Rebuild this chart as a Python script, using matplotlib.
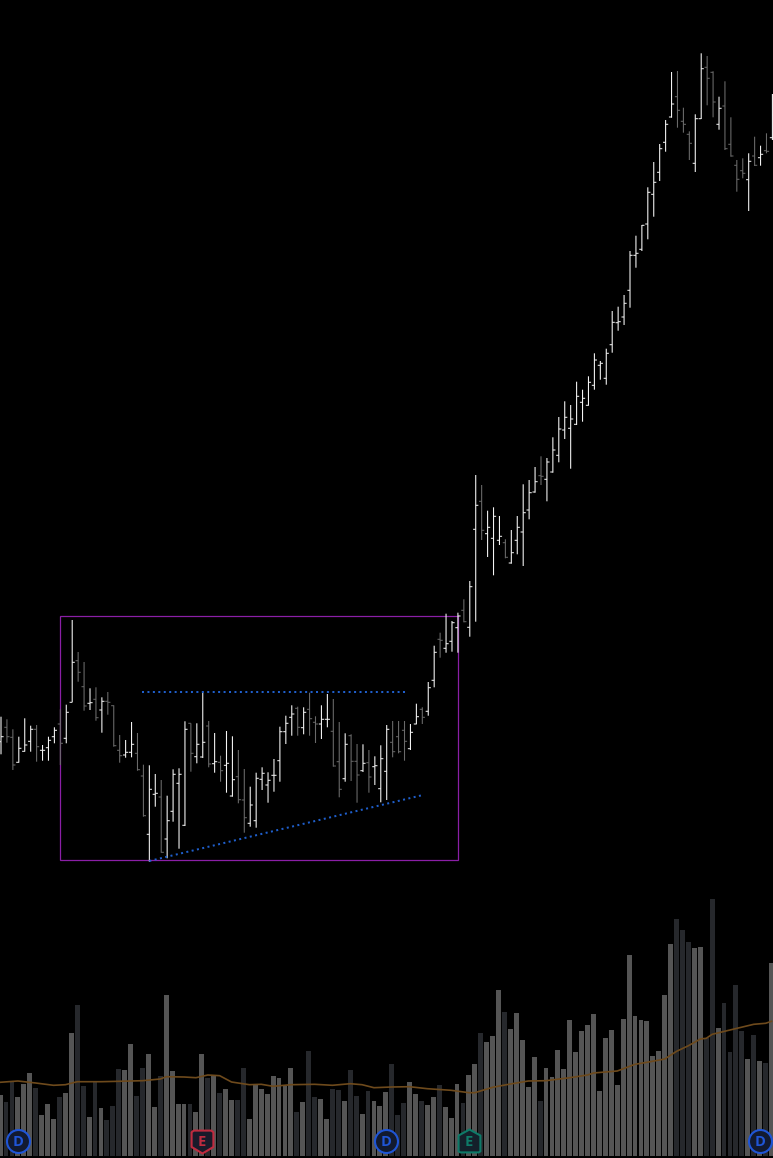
import numpy as np
import matplotlib
matplotlib.use("Agg")
import matplotlib.pyplot as plt
from matplotlib.path import Path
from matplotlib.patches import Rectangle

highs = [28.33,28.07,27.07,26.33,28.17,27.43,27.5,25.5,26.33,27.27,29.07,29.53,38,34.8,33.8,31.17,31.27,30.27,30.8,29.47,26.5,26,27.8,26.7,23.53,23.47,22.6,22,20.43,23.07,23.17,27.87,27.67,27.67,30.73,27.9,26.7,24.43,26.9,26.37,25,
 23.1,21.33,22.73,23.27,22.77,24.1,27.33,28.43,29.47,29.33,29.27,30.73,28.37,29.47,30.6,30.1,27.8,26.67,26.57,25.6,25.57,25,24.37,25.47,27.5,27.9,27.9,27.9,27.6,29.63,29.27,31.8,35.43,36.73,38.63,37.9,38.73,
 40.07,41.9,52.5,51.5,48.93,49.27,48.4,46.07,47,48.4,51.57,52,53.3,54.37,54.2,56.27,58.3,59.87,59.5,61.83,61.03,62.37,64.67,63.9,65.13,
 68.9,69.33,70.5,74.9,76.43,77.5,81.27,83.8,85.6,88,92.8,92.9,89.23,86.87,88.57,94.67,94.4,92.87,90.33,91.87,88.27,84,84.17,84.67,86.33,85.43,86.67,90.6]
lows = [24.57,25.73,23,23.73,24.83,24.83,23.83,23.93,23.93,25.67,23.5,25.67,29.77,31.83,28.93,29,27.93,26.73,28.53,25.33,23.73,24.23,24.27,22.93,18.33,13.83,19.33,14.73,14.17,17.83,15.13,17.4,22.83,23.67,24.2,23.27,22.73,21.83,20.73,20.33,19.67,
 16.73,17.33,17.23,21,19.73,20.83,21.83,25.6,26.43,26.43,26.57,26.43,25.7,26.1,27.27,23.33,20.27,21.83,21.9,19.73,22.8,20.73,21.5,19.77,20,24.27,24.67,23.93,25,27.57,27.6,28.43,31.27,34.23,34.73,34.83,34.73,
 37.77,36.33,37.83,46,44.3,42.47,45.5,44.17,43.63,44.57,43.4,48.07,50.73,51.5,49.87,52.73,53.77,56.1,53.13,57.5,57.83,59.43,61.03,62.03,61.53,
 64.73,66.93,67.5,69.23,73.23,74.9,76.07,78.33,81.9,84.83,88.23,87.23,86.73,84,82.8,88.1,89.47,88.27,87.03,85,84.33,80.83,82.17,78.9,83.4,83.43,84.67,86]
opens = [25.83,27.27,26.27,23.77,24.87,25.87,27.07,24.97,25.23,26.33,27.6,26.17,29.77,33.93,31.33,29.67,30.07,29,29.87,29.43,24.97,24.5,24.77,24.67,22.4,16.57,20.57,20.3,16.1,18.87,21.67,17.47,27.67,24.33,24.3,27.4,23.63,23.77,23.47,20.4,22.33,
 20,17.67,17.93,22.07,21.5,22.47,23.93,26.83,28.27,29.17,27.23,29.07,27.77,27.6,28.07,26.87,23.83,22.13,26.43,23.87,22.93,23.73,23.33,21.13,22.87,25.77,26.33,26.97,25.13,27.6,29.07,28.87,31.97,36.07,35.17,35.87,37.23,
 38.97,37.27,47.07,49.87,46.63,46.17,45.97,45.73,43.7,45.97,46.8,49,50.8,52.43,52.07,52.8,54.47,57,57.17,57.57,59.77,59.47,61.47,63.47,62.17,
 65.53,67.73,68.3,70.97,74.47,75.07,77.6,80.57,82.77,85.77,88.3,90.33,87.87,86.57,83.67,88.13,93.27,92.77,87.57,89.4,85.57,83.47,82.93,82.03,84.4,84.23,84.93,86.23]
closes = [26.33,26.33,23.5,25.17,25.5,27.07,25.33,24.97,25.97,26.97,25.67,28.77,33.77,32.77,29.4,29.73,28.23,29.87,29.77,25.43,24.43,24.77,25.57,23.03,18.43,21.07,20.67,14.77,17.93,22.57,22.57,27.07,24.67,25.57,25.77,23.6,23.83,22.93,23.67,22.03,20.03,
 18.23,19.5,22.17,22.67,21.97,22.47,26.83,27.67,28.6,27.27,28.77,28.13,27.6,28.07,28.07,23.4,21.07,25.57,23.87,22.5,23.67,22.3,23.43,24.13,27.07,24.83,24.83,25.87,26.77,28.33,28.27,31.23,34.77,35.97,35.63,37.73,38.4,
 37.83,41.33,49.47,46.97,47.27,48.37,46.37,44.27,44.73,47.27,48.73,50.73,51.83,52.37,53.8,55,57.1,58.27,58.1,60.37,60.17,61.77,64,63.67,64.67,
 67.77,67.83,69.67,74.47,74.67,77.47,80.77,81.77,85.13,87.57,89.6,88.97,87.57,85.67,88.13,93.13,92.17,89.8,89.17,85.13,84.4,82.07,82.67,83.87,83.47,84.57,84.87,88.5]
volumes = [6.1,5.37,7.43,5.93,7.17,8.27,6.83,4.1,5.17,3.7,5.93,6.27,12.27,15.1,7,3.9,7.53,4.8,3.63,5,8.7,8.63,11.2,6,8.8,10.2,4.9,7.97,16.1,8.53,5.17,5.17,5.17,4.37,10.2,7.83,8,6.27,6.7,5.6,5.6,8.8,3.7,7.1,
 6.73,6.17,8,7.83,7.03,8.8,4.43,5.37,10.47,5.93,5.7,3.7,6.7,6.6,5.53,8.63,6,4.17,6.53,5.47,5,6.37,9.17,4.1,5.27,7.43,6.17,5.47,5.1,5.9,7.07,4.9,3.8,7.17,5.27,8.1,9.2,12.27,11.37,12,16.57,14.37,12.73,14.3,
 11.63,6.9,9.9,5.53,8.8,7.9,10.63,8.7,13.57,10.37,12.47,13.1,14.2,6.53,11.8,12.57,7.1,13.73,20.1,14,13.63,13.47,10,10.53,16.1,21.2,23.67,22.57,21.4,20.83,20.93,11.77,25.67,12.8,15.27,10.37,17.07,12.47,9.7,12.1,9.53,9.3,19.27]
ma_index = [0,3,6,9,11,13,17,20,24,27,28,31,33,35,37,39,42,44,46,49,53,56,59,61,63,66,69,72,76,79,80,83,86,88,89,92,96,99,100,104,107,109,112,114,116,118,119,120,123,127,129,130]
ma_values = [7.37,7.5,7.3,7.07,7.13,7.43,7.43,7.47,7.53,7.7,7.93,7.9,7.83,8.1,8.03,7.4,7.13,7.17,6.97,7.13,7.17,7.07,7.23,7.13,6.83,6.9,6.93,6.73,6.57,6.33,6.33,6.87,7.2,7.4,7.5,7.53,7.83,8.1,8.3,8.5,9.17,9.37,9.7,10.47,11.03,11.7,11.77,12.17,12.6,13.17,13.27,13.47]
resistance_x, resistance_y = [23.8, 68.2], [30.83, 30.83]
support_x, support_y = [25.0, 71.1], [13.9, 20.5]
box_x, box_y = [9.97, 77.0], [14.0, 38.4]
events = [(3, "D"), (34, "E-"), (65, "D"), (79, "E+"), (128, "D")]

W, H = 773, 1158
X0, STEP = 1.0, 5.934
VOL_SHIFT = 0.15
fig = plt.figure(figsize=(W/100, H/100), dpi=100, facecolor="black")

def make_axes():
    ax = fig.add_axes([0, 0, 1, 1])
    ax.set_xlim((0 - X0)/STEP, (W - X0)/STEP)
    ax.axis("off")
    ax.patch.set_alpha(0)
    return ax

axv = make_axes()
axv.set_ylim((1156 - H)/10, 1156/10)
axp = make_axes()
axp.set_ylim((1000 - H)/10, 1000/10)
axp.set_zorder(2)

idx = np.arange(len(highs))
o, c, h, l = map(np.array, (opens, closes, highs, lows))
up = c >= o

# volume
vcols = np.where(up, "#555555", "#26282c")
axv.bar(idx - VOL_SHIFT, volumes, width=0.82, color=vcols, linewidth=0)
axv.plot(np.array(ma_index) - VOL_SHIFT, ma_values, color="#6e4a1c", lw=1.2,
         solid_joinstyle="round", zorder=3)

# event badges
shield = Path([(-1,0.85),(-0.8,1),(0.8,1),(1,0.85),(1,-0.5),(0,-1.1),(-1,-0.5),(-1,0.85)], closed=True)
house = Path([(0,1.1),(1,0.55),(1,-0.9),(0.85,-1),(-0.85,-1),(-1,-0.9),(-1,0.55),(0,1.1)], closed=True)
BADGE_Y = (1156 - 1141)/10
for i, kind in events:
    letter = kind[0]
    if kind == "D":
        m, ec, fc, ms = "o", "#1f55d6", "#121a30", 23*0.72
    elif kind == "E-":
        m, ec, fc, ms = shield, "#bf2b3f", "#1a1a2a", 24*0.72
    else:
        m, ec, fc, ms = house, "#0e7a68", "#14202a", 24*0.72
    axv.plot([i - VOL_SHIFT], [BADGE_Y], marker=m, ms=ms, mec=ec, mfc=fc, mew=1.5, ls="none", zorder=5)
    axv.text(i - VOL_SHIFT, BADGE_Y, letter, color=ec, ha="center", va="center_baseline",
             fontsize=10.5, fontweight="bold", family="Open Sans", zorder=6)

# price box and trend lines
axp.add_patch(Rectangle((box_x[0], box_y[0]), box_x[1]-box_x[0], box_y[1]-box_y[0],
                        fill=False, ec="#8a1fa6", lw=0.9, zorder=1))
axp.plot(resistance_x, resistance_y, color="#1f5fcc", lw=1.45, ls=(0, (1, 1.7)), zorder=4)
axp.plot(support_x, support_y, color="#1f5fcc", lw=1.45, ls=(0, (1, 1.7)), zorder=4)

# OHLC bars
cols = np.where(up, "#f4f4f4", "#6a6a6a")
TICK = 2.6/STEP
axp.vlines(idx, l, h, colors=cols, lw=0.78, zorder=3, snap=False)
axp.hlines(o, idx - TICK, idx, colors=cols, lw=0.72, zorder=3, snap=False)
axp.hlines(c, idx, idx + TICK, colors=cols, lw=0.72, zorder=3, snap=False)

fig.savefig("out.png", dpi=100, facecolor="black")
